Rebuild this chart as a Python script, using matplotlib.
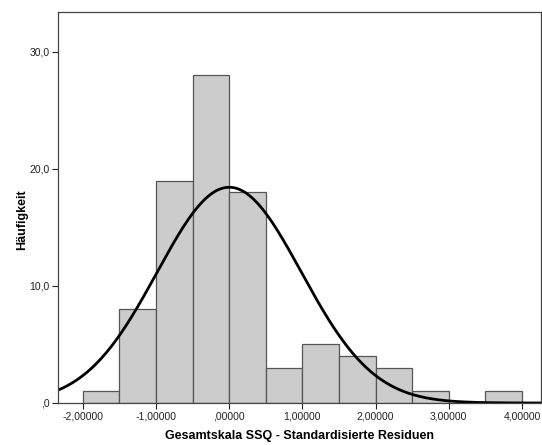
import numpy as np
import matplotlib
matplotlib.use('Agg')
import matplotlib.pyplot as plt

plt.rcParams['font.family'] = ['Liberation Sans', 'DejaVu Sans']

# Bin edges and counts of the standardized residuals
bin_edges = [-2.0, -1.5, -1.0, -0.5, 0.0, 0.5, 1.0, 1.5, 2.0, 2.5, 3.0, 3.5, 4.0]
counts = [1, 8, 19, 28, 18, 3, 5, 4, 3, 1, 0, 1]
res_mean = 0.0
res_sd = 0.985

x_ticks = [-2, -1, 0, 1, 2, 3, 4]
x_labels = ['-2,00000', '-1,00000', ',00000', '1,00000', '2,00000', '3,00000', '4,00000']
y_ticks = [0, 10, 20, 30]
y_labels = [',0', '10,0', '20,0', '30,0']

fig = plt.figure(figsize=(5.42, 4.45), dpi=100)
ax = fig.add_axes([58 / 542, 42 / 445, 483 / 542, 391 / 445])

width = bin_edges[1] - bin_edges[0]
ax.bar(bin_edges[:-1], counts, width=width, align='edge',
       color='#cccccc', edgecolor='#555555', linewidth=0.9)

# Normal curve scaled to the histogram
n = sum(counts)
xs = np.linspace(-2.34, 4.26, 400)
ys = n * width / (res_sd * np.sqrt(2 * np.pi)) * np.exp(-(xs - res_mean) ** 2 / (2 * res_sd ** 2))
ax.plot(xs, ys, color='black', linewidth=2)

ax.set_xlim(-2.34, 4.26)
ax.set_ylim(0, 33.4)
ax.set_xticks(x_ticks)
ax.set_xticklabels(x_labels)
ax.set_yticks(y_ticks)
ax.set_yticklabels(y_labels)
ax.tick_params(direction='out', length=4, width=0.8, labelsize=7.5, colors='#222222', pad=2)

for s in ax.spines.values():
    s.set_color('#444444')
    s.set_linewidth(0.9)

ax.set_xlabel('Gesamtskala SSQ - Standardisierte Residuen', fontsize=9, fontweight='bold')
ax.xaxis.set_label_coords(0.5, -0.07)
ax.set_ylabel('Häufigkeit', fontsize=9, fontweight='bold')
ax.yaxis.set_label_coords(-0.062, 0.47)

fig.savefig('out.png', dpi=100)
